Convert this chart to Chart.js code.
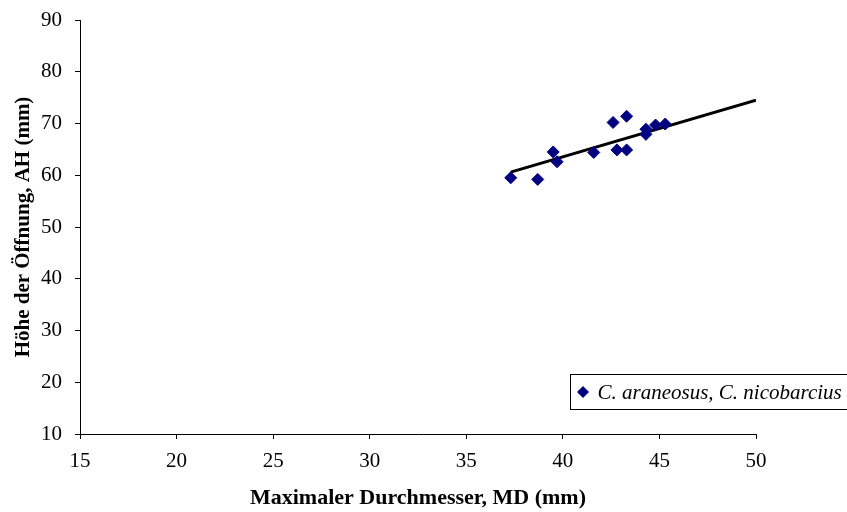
<!DOCTYPE html>
<html>
<head>
<meta charset="utf-8">
<style>
  html, body { margin: 0; padding: 0; background: #fff; }
  #wrap { width: 847px; height: 512px; }
</style>
<script src="https://cdn.jsdelivr.net/npm/chart.js@4/dist/chart.umd.min.js"></script>
</head>
<body>
<div id="wrap"><canvas id="chart" width="847" height="512"></canvas></div>
<script>
// measurements: maximum diameter (MD) vs aperture height (AH), in mm
var md = [37.3, 38.7, 39.5, 39.7, 41.6, 42.6, 42.8, 43.3, 43.3, 44.3, 44.3, 44.8, 45.3];
var ah = [59.5, 59.2, 64.5, 62.6, 64.4, 70.2, 64.9, 71.4, 64.9, 68.9, 67.9, 69.7, 69.9];

// linear trend, drawn from the smallest MD out to the axis end
var trendX = [37.3, 50];
var trendY = [60.6, 74.5];

var seriesLabel = 'C. araneosus, C. nicobarcius';
var xTitle = 'Maximaler Durchmesser, MD (mm)';
var yTitle = 'Höhe der Öffnung, AH (mm)';

var serif = '"Liberation Serif", "Times New Roman", serif';
var navy = '#000080';

function pairs(xs, ys) {
  return xs.map(function(x, i) { return {x: x, y: ys[i]}; });
}

// boxed legend in the lower right corner, running off the right edge
var boxLegend = {
  id: 'boxLegend',
  afterDraw: function(chart) {
    var ctx = chart.ctx;
    var left = 570.5, top = 374.5, w = 290, h = 35;
    ctx.save();
    ctx.fillStyle = '#fff';
    ctx.fillRect(left, top, w, h);
    ctx.strokeStyle = '#000';
    ctx.lineWidth = 1;
    ctx.strokeRect(left, top, w, h);

    var cx = left + 12.5, cy = top + h / 2;
    ctx.fillStyle = navy;
    ctx.beginPath();
    ctx.moveTo(cx, cy - 6);
    ctx.lineTo(cx + 6, cy);
    ctx.lineTo(cx, cy + 6);
    ctx.lineTo(cx - 6, cy);
    ctx.closePath();
    ctx.fill();

    ctx.fillStyle = '#000';
    ctx.font = 'italic 21px ' + serif;
    ctx.textBaseline = 'middle';
    ctx.fillText(seriesLabel, left + 27, cy + 1);
    ctx.restore();
  }
};

new Chart(document.getElementById('chart'), {
  type: 'scatter',
  data: {
    datasets: [{
      label: seriesLabel,
      data: pairs(md, ah),
      pointStyle: 'rectRot',
      pointRadius: 6,
      pointHoverRadius: 6,
      backgroundColor: navy,
      borderColor: navy,
      borderWidth: 1
    }, {
      label: 'Trend',
      type: 'line',
      data: pairs(trendX, trendY),
      borderColor: '#000',
      borderWidth: 3,
      pointRadius: 0,
      fill: false
    }]
  },
  options: {
    responsive: false,
    animation: false,
    events: [],
    layout: { padding: { top: 20, right: 91, left: 0, bottom: 0 } },
    plugins: {
      legend: { display: false },
      tooltip: { enabled: false }
    },
    scales: {
      x: {
        type: 'linear',
        min: 15,
        max: 50,
        afterFit: function(scale) {
          scale.height = 78;
          scale.paddingLeft = 0;
          scale.paddingRight = 0;
        },
        border: { color: '#000', width: 1 },
        grid: { drawOnChartArea: false, color: '#000', tickLength: 5 },
        ticks: {
          stepSize: 5,
          color: '#000',
          padding: 10,
          font: { family: serif, size: 21 }
        },
        title: {
          display: true,
          text: xTitle,
          color: '#000',
          padding: { top: 0, bottom: 0 },
          font: { family: serif, size: 22, weight: 'bold' }
        }
      },
      y: {
        min: 10,
        max: 90,
        afterFit: function(scale) {
          scale.width = 80;
          scale.paddingTop = 0;
          scale.paddingBottom = 0;
        },
        border: { color: '#000', width: 1 },
        grid: { drawOnChartArea: false, color: '#000', tickLength: 5 },
        ticks: {
          stepSize: 10,
          color: '#000',
          padding: 13,
          font: { family: serif, size: 21 }
        },
        title: {
          display: true,
          text: yTitle,
          color: '#000',
          padding: { top: 11, bottom: 0 },
          font: { family: serif, size: 21, weight: 'bold' }
        }
      }
    }
  },
  plugins: [boxLegend]
});
</script>
</body>
</html>
